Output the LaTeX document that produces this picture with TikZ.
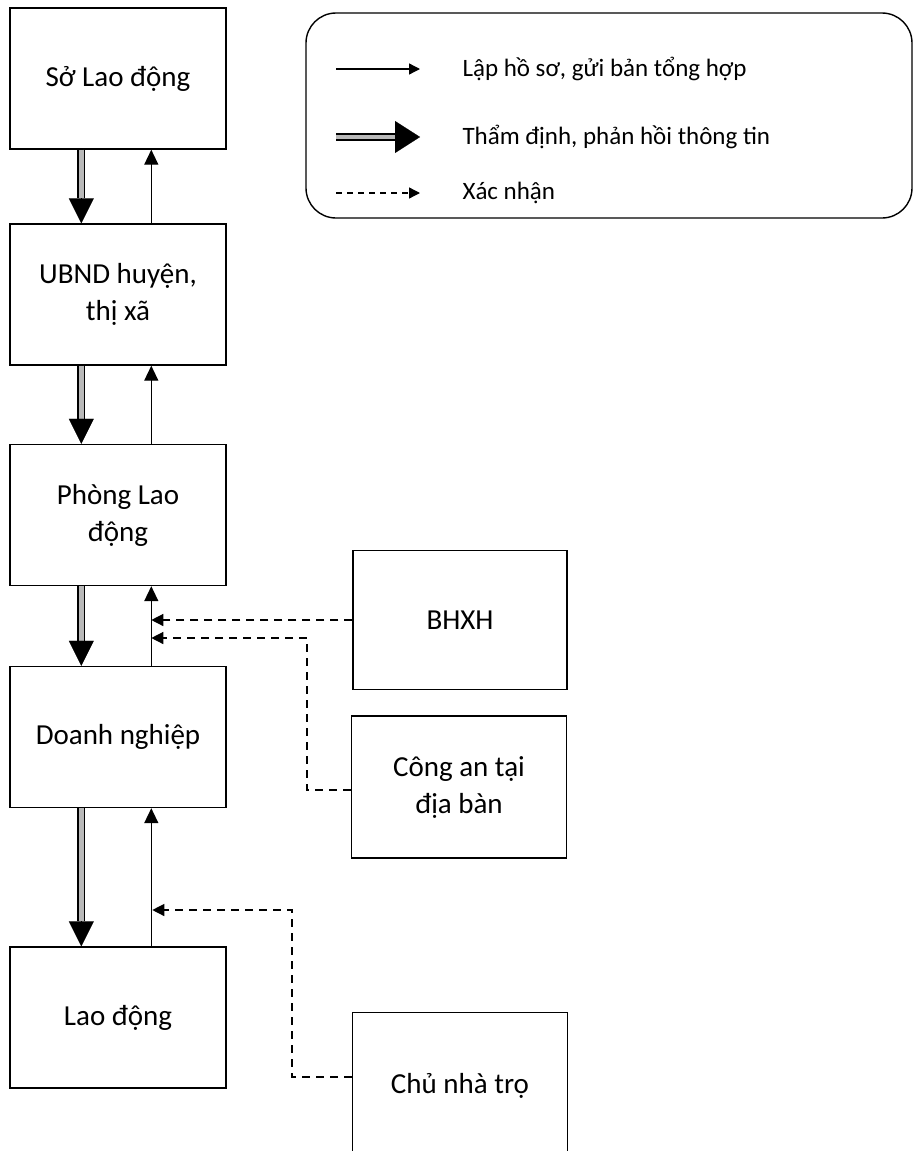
\documentclass[tikz,border=0pt]{standalone}
\usepackage{fontspec}
\setmainfont{Carlito}
\usetikzlibrary{arrows.meta,positioning}

\tikzset{
  box/.style={draw, line width=1.4pt, minimum width=216pt, minimum height=141pt,
    align=center, font=\fontsize{29}{37}\selectfont, inner sep=0pt},
  dblshaft/.style={draw, line width=1.8pt, double=gray!55, double distance=4.5pt},
  dblhead/.style={line width=0.1pt, -{Triangle[length=25pt,width=25pt]}},
  thinarrow/.style={line width=1.4pt, -{Triangle[length=15pt,width=14pt]}},
  dasharrow/.style={line width=1.3pt, dash pattern=on 8pt off 6pt,
    -{Triangle[length=12pt,width=12pt]}},
  legtext/.style={anchor=west, font=\fontsize{25}{32}\selectfont}
}

\begin{document}
\begin{tikzpicture}[x=1pt,y=-1pt]
  \useasboundingbox (0,0) rectangle (914,1151);
  \clip (0,0) rectangle (914,1151);

  % main column
  \node[box] (so)    at (118,78.5) {Sở Lao động};
  \node[box] (ubnd)  at (118,294.5) {UBND huyện,\\thị xã};
  \node[box] (phong) at (118,515) {Phòng Lao\\động};
  \node[box] (dn)    at (118,737) {Doanh nghiệp};
  \node[box] (ld)    at (118,1017.5) {Lao động};

  % right column
  \node[box, minimum width=214pt, minimum height=139pt] (bhxh) at (460,620) {BHXH};
  \node[box, minimum width=215pt, minimum height=142pt] (ca)   at (459,787) {Công an tại\\địa bàn};
  \node[box, minimum width=215pt, minimum height=147pt] (chu)  at (460,1086) {Chủ nhà trọ};

  % arrows between the boxes of the column
  \foreach \a/\b in {so/ubnd, ubnd/phong, phong/dn, dn/ld} {
    \draw[dblshaft] ([xshift=72]\a.south west) -- ([xshift=72,yshift=25]\b.north west);
    \draw[dblhead] ([xshift=72,yshift=25]\b.north west) -- ([xshift=72]\b.north west);
    \draw[thinarrow] ([xshift=142]\b.north west) -- ([xshift=142]\a.south west);
  }

  % confirmations
  \coordinate (up3) at ([xshift=142]dn.north west);
  \coordinate (up4) at ([xshift=143]ld.north west);
  \draw[dasharrow] (bhxh.west) -- (up3 |- bhxh.west);
  \draw[dasharrow] ([yshift=-3]ca.west) -| (307,638) -- (up3 |- 0,638);
  \draw[dasharrow] (chu.west |- 0,1077) -| (292,910) -- (up4 |- 0,910);

  % legend
  \node[draw, line width=1.4pt, rounded corners=30pt, minimum width=606pt,
    minimum height=205pt] (legend) at (609,115.5) {};
  \coordinate (l1a) at (336,69);  \coordinate (l1b) at (420,69);
  \coordinate (l2a) at (336,137); \coordinate (l2b) at (420,137);
  \coordinate (l3a) at (336,193); \coordinate (l3b) at (420,193);
  \draw[line width=1.3pt, -{Triangle[length=11pt,width=11pt]}] (l1a) -- (l1b);
  \draw[dblshaft] (l2a) -- ([xshift=-25]l2b);
  \draw[line width=0.1pt, -{Triangle[length=25pt,width=32pt]}] ([xshift=-25]l2b) -- (l2b);
  \draw[line width=1.3pt, dash pattern=on 6pt off 5pt,
    -{Triangle[length=11pt,width=11pt]}] (l3a) -- (l3b);
  \node[legtext] (t1) at (459,69) {Lập hồ sơ, gửi bản tổng hợp};
  \node[legtext] (t2) at (459,137) {Thẩm định, phản hồi thông tin};
  \node[legtext] (t3) at (459,193) {Xác nhận};

\end{tikzpicture}
\end{document}
